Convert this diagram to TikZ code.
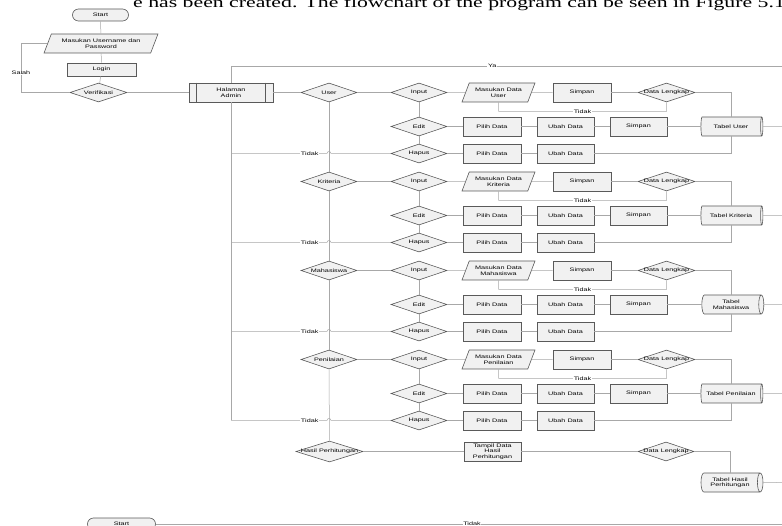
\documentclass[tikz,border=0pt]{standalone}
\usepackage{fontspec}
\setmainfont{Liberation Sans}
\newfontfamily\lblfont[FakeStretch=1.45]{Liberation Sans}
\newfontfamily\headfont[FakeStretch=1.45]{Liberation Serif}
\usetikzlibrary{shapes.geometric,shapes.misc}
\definecolor{shapeborder}{HTML}{5A5A5A}
\definecolor{shapefill}{HTML}{F1F1F1}
\definecolor{linegray}{HTML}{A8A8A8}
\newcommand\dz[1]{\makebox[0pt]{#1}}
\begin{document}
\begin{tikzpicture}[x=1pt,y=-1pt,
  every node/.style={font=\lblfont\fontsize{5}{5.5}\selectfont, inner sep=0.5pt},
  shp/.style={draw=shapeborder, fill=shapefill, line width=0.6pt, align=center},
  proc/.style={shp, rectangle, minimum width=58pt, minimum height=19pt},
  dec/.style={shp, diamond, aspect=3, minimum width=56pt, minimum height=19pt, inner sep=0pt},
  io/.style={shp, trapezium, trapezium left angle=60, trapezium right angle=120, trapezium stretches, minimum width=73pt, minimum height=19pt},
  store/.style={shp, cylinder, shape aspect=0.5, minimum height=62pt, minimum width=19pt},
  term/.style={shp, rounded rectangle, minimum width=57pt, minimum height=12pt},
  conn/.style={draw=linegray, line width=0.5pt},
  lbl/.style={fill=white, inner sep=0.6pt, text=black}
]
\useasboundingbox (0,0) rectangle (782,526);
\clip (0,0) rectangle (782,526);

% header text (cut by the page, as in the reference)
\node[anchor=base west, font=\headfont\fontsize{15}{15}\selectfont, inner sep=0pt] (hdr) at (133,8)
  {e has been created. The flowchart of the program can be seen in Figure 5.1};

% login part
\node[term] (start) at (100.5,15) {Start};
\node[io, minimum width=114pt] (mu) at (101,43.5) {Masukan Username dan\\Password};
\node[proc, minimum width=69pt, minimum height=13pt] (login) at (101.5,69.5) {Login};
\node[dec, minimum width=57pt] (ver) at (98.5,92.5) {\dz{Verifikasi}};
\node[proc, minimum width=84pt] (ha) at (231,92.5) {Halaman\\Admin};
\draw[shapeborder, line width=0.6pt] ([xshift=8pt]ha.north west) -- ([xshift=8pt]ha.south west);
\draw[shapeborder, line width=0.6pt] ([xshift=-8pt]ha.north east) -- ([xshift=-8pt]ha.south east);

\coordinate (salahc) at (21,92.5);
\coordinate (ya) at (782,66);
\draw[conn] (start) -- (mu);
\draw[conn] (mu) -- (login);
\draw[conn] (login) -- (ver);
\draw[conn] (ver) -- (ha);
\draw[conn] (ver.west) -- (salahc) |- (mu.west) node[pos=0.2,lbl]{Salah};
\draw[conn] (ha.north) |- (ya) node[pos=0.737,lbl]{Ya};

% four menu groups
\foreach \n/\Y/\cat/\ms/\tb in {1/92.5/User/{Masukan Data\\User}/{Tabel User},
                                2/181.5/Kriteria/{Masukan Data\\Kriteria}/{Tabel Kriteria},
                                3/270.5/Mahasiswa/{Masukan Data\\Mahasiswa}/{Tabel\\Mahasiswa},
                                4/359.5/Penilaian/{Masukan Data\\Penilaian}/{Tabel Penilaian}}{
  \node[dec] (cat\n) at (329,\Y) {\dz{\cat}};
  \node[dec] (in\n) at (419,\Y) {\dz{Input}};
  \node[io] (ms\n) at (498.5,\Y) {\ms};
  \node[proc] (sp\n) at (582,\Y) {Simpan};
  \node[dec, minimum width=57pt] (dl\n) at (666.5,\Y) {\dz{Data Lengkap}};
  \node[dec] (ed\n) at (419,\Y+34) {\dz{Edit}};
  \node[proc] (pa\n) at (492,\Y+34) {Pilih Data};
  \node[proc, minimum width=57pt] (ua\n) at (565.5,\Y+34) {Ubah Data};
  \node[proc, minimum width=57pt] (sb\n) at (638.5,\Y+34) {Simpan};
  \node[store] (tb\n) at (731,\Y+34) {\tb};
  \node[dec] (hp\n) at (419,\Y+61) {\dz{Hapus}};
  \node[proc] (pb\n) at (492,\Y+61) {Pilih Data};
  \node[proc, minimum width=57pt] (ub\n) at (565.5,\Y+61) {Ubah Data};
  \coordinate (lp\n) at (498.5,\Y+19);
  \coordinate (ts\n) at (231,\Y+61);
  \coordinate (te\n) at (782,\Y+34);
  \draw[conn] (cat\n) -- (in\n);
  \draw[conn] (in\n) -- (ms\n);
  \draw[conn] (ms\n) -- (sp\n);
  \draw[conn] (sp\n) -- (dl\n);
  \draw[conn] (in\n) -- (ed\n);
  \draw[conn] (ed\n) -- (hp\n);
  \draw[conn] (ed\n) -- (pa\n);
  \draw[conn] (pa\n) -- (ua\n);
  \draw[conn] (ua\n) -- (sb\n);
  \draw[conn] (sb\n) -- (tb\n);
  \draw[conn] (hp\n) -- (pb\n);
  \draw[conn] (pb\n) -- (ub\n);
  \draw[conn] (dl\n.east) -| (tb\n.north);
  \draw[conn] (ub\n.east) -| (tb\n.south);
  \draw[conn] (tb\n.east) -- (te\n);
  \draw[conn] (ms\n.south) -- (lp\n) -| (dl\n.south) node[pos=0.25,lbl]{Tidak};
  \draw[conn] (ts\n) -- ([xshift=-2pt]cat\n.center |- ts\n) node[pos=0.82,lbl]{Tidak}
     arc[start angle=180, end angle=0, radius=2pt] -- (hp\n.west);
}

% hasil perhitungan
\node[dec, minimum width=67pt, minimum height=21pt] (hasil) at (329.5,451.5) {\dz{Hasil Perhitungan}};
\node[proc, minimum width=57pt] (tampil) at (492.5,451.5) {Tampil Data\\Hasil\\Perhitungan};
\node[dec] (dl5) at (666,451.5) {\dz{Data Lengkap}};
\node[store] (tb5) at (730,482.5) {Tabel Hasil\\Perhitungan};
\coordinate (te5) at (782,482.5);
\draw[conn] (hasil) -- (tampil);
\draw[conn] (tampil) -- (dl5);
\draw[conn] (dl5.east) -| (tb5.north);
\draw[conn] (tb5.east) -- (te5);

% vertical spines
\draw[conn] (cat1) -- (cat2);
\draw[conn] (cat2) -- (cat3);
\draw[conn] (cat3) -- (cat4);
\draw[conn] (cat4) -- (hasil);
\draw[conn] (ha.south) -- (ts4);
\draw[conn] (ha) -- (cat1);

% second start (cut at the bottom)
\node[term, minimum width=69pt] (start2) at (121.5,524) {Start};
\coordinate (bt) at (782,524);
\draw[conn] (start2.east) -- (bt) node[pos=0.505,lbl]{Tidak};
\end{tikzpicture}
\end{document}
